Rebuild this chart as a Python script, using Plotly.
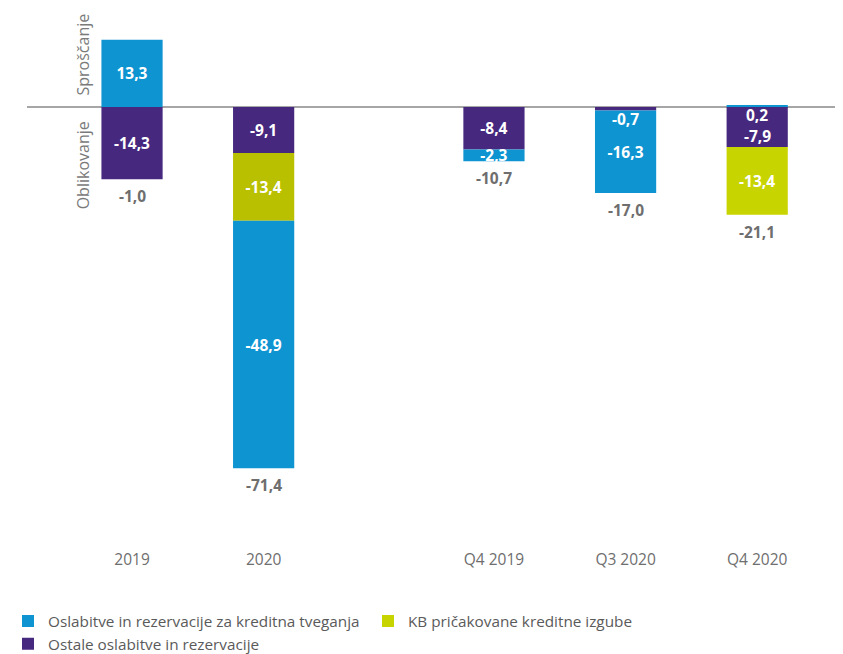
import plotly.graph_objects as go

categories = ["2019", "2020", "Q4 2019", "Q3 2020", "Q4 2020"]
x_pos = [0, 1, 2.75, 3.75, 4.75]

ostale = [-14.3, -9.1, -8.4, -0.7, -7.9]          # purple
kb = [None, -13.4, None, None, -13.4]             # yellow-green
kreditna = [13.3, -48.9, -2.3, -16.3, 0.2]        # blue
totals = [-1.0, -71.4, -10.7, -17.0, -21.1]

names = {
    "kreditna": "Oslabitve in rezervacije za kreditna tveganja",
    "kb": "KB pričakovane kreditne izgube",
    "ostale": "Ostale oslabitve in rezervacije",
}

BLUE = "#0f94d2"
PURPLE = "#47287f"
KB_COLORS = ["#c8d400", "#b9c000", "#c8d400", "#c8d400", "#c8d400"]
GRAY = "#6e6e6e"
FONT = "Open Sans"
LBL = 15.5


def fmt(v):
    return f"{v:.1f}".replace(".", ",")


# labels placed as annotations instead of inside the bar
special = {("ostale", "Q4 2020"): "bottom"}

series = [("ostale", ostale, PURPLE), ("kb", kb, KB_COLORS), ("kreditna", kreditna, BLUE)]

fig = go.Figure()
annotations = []
for key, vals, color in series:
    texts = []
    for c, x, v in zip(categories, x_pos, vals):
        if v is None:
            texts.append("")
        elif abs(v) < 1 or (key, c) in special:
            texts.append("")
        else:
            texts.append(fmt(v))
    fig.add_trace(go.Bar(
        x=x_pos, y=vals, name=names[key],
        marker=dict(color=color, line=dict(width=0)),
        text=texts, textposition="inside", insidetextanchor="middle",
        textfont=dict(color="white", size=LBL, family=FONT, weight="bold"),
        width=0.465, hoverinfo="skip",
    ))

for i, (c, x) in enumerate(zip(categories, x_pos)):
    pos_base = 0.0
    neg_base = 0.0
    for key, vals, color in series:
        v = vals[i]
        if v is None:
            continue
        if v >= 0:
            start, end = pos_base, pos_base + v
            pos_base = end
        else:
            start, end = neg_base, neg_base + v
            neg_base = end
        if abs(v) < 1:
            ylab = min(start, end)
            annotations.append(dict(x=x, y=ylab, text=fmt(v), showarrow=False,
                                    yanchor="top", yshift=5,
                                    font=dict(color="white", size=LBL, family=FONT, weight="bold")))
        elif (key, c) in special:
            annotations.append(dict(x=x, y=end, text=fmt(v), showarrow=False,
                                    yanchor="bottom", yshift=-2,
                                    font=dict(color="white", size=LBL, family=FONT, weight="bold")))
    annotations.append(dict(x=x, y=neg_base, text=fmt(totals[i]), showarrow=False,
                            yanchor="top", yshift=-4,
                            font=dict(color=GRAY, size=LBL, family=FONT, weight="bold")))

annotations.append(dict(xref="paper", yref="y", x=0.0688, y=10.4, text="Sproščanje",
                        textangle=-90, showarrow=False, xanchor="center", yanchor="middle",
                        font=dict(color="#7a7a7a", size=16, family=FONT)))
annotations.append(dict(xref="paper", yref="y", x=0.0688, y=-11.5, text="Oblikovanje",
                        textangle=-90, showarrow=False, xanchor="center", yanchor="middle",
                        font=dict(color="#7a7a7a", size=16, family=FONT)))

fig.update_layout(
    width=835, height=646,
    barmode="relative",
    plot_bgcolor="white", paper_bgcolor="white",
    margin=dict(l=19, r=0, t=12, b=106),
    font=dict(family=FONT, color=GRAY, size=LBL),
    separators=",.",
    uniformtext=dict(minsize=LBL, mode="show"),
    annotations=annotations,
    showlegend=True,
    legend=dict(orientation="h", traceorder="reversed",
                xref="container", yref="container",
                x=-0.01, y=0.0766, xanchor="left", yanchor="top", entrywidth=315,
                font=dict(size=15.3, color="#5a5a5a", family=FONT),
                itemwidth=30, tracegroupgap=0),
)
fig.update_xaxes(range=[-0.798, 5.402], tickvals=x_pos, ticktext=categories,
                 showgrid=False, zeroline=False, showline=False, ticks="",
                 tickfont=dict(size=LBL, color=GRAY, family=FONT))
fig.update_yaxes(range=[-87.15, 17.19], showgrid=False, showticklabels=False,
                 zeroline=True, zerolinecolor="#a6a6a6", zerolinewidth=1.5,
                 showline=False, ticks="")

fig.write_html("out.html")
